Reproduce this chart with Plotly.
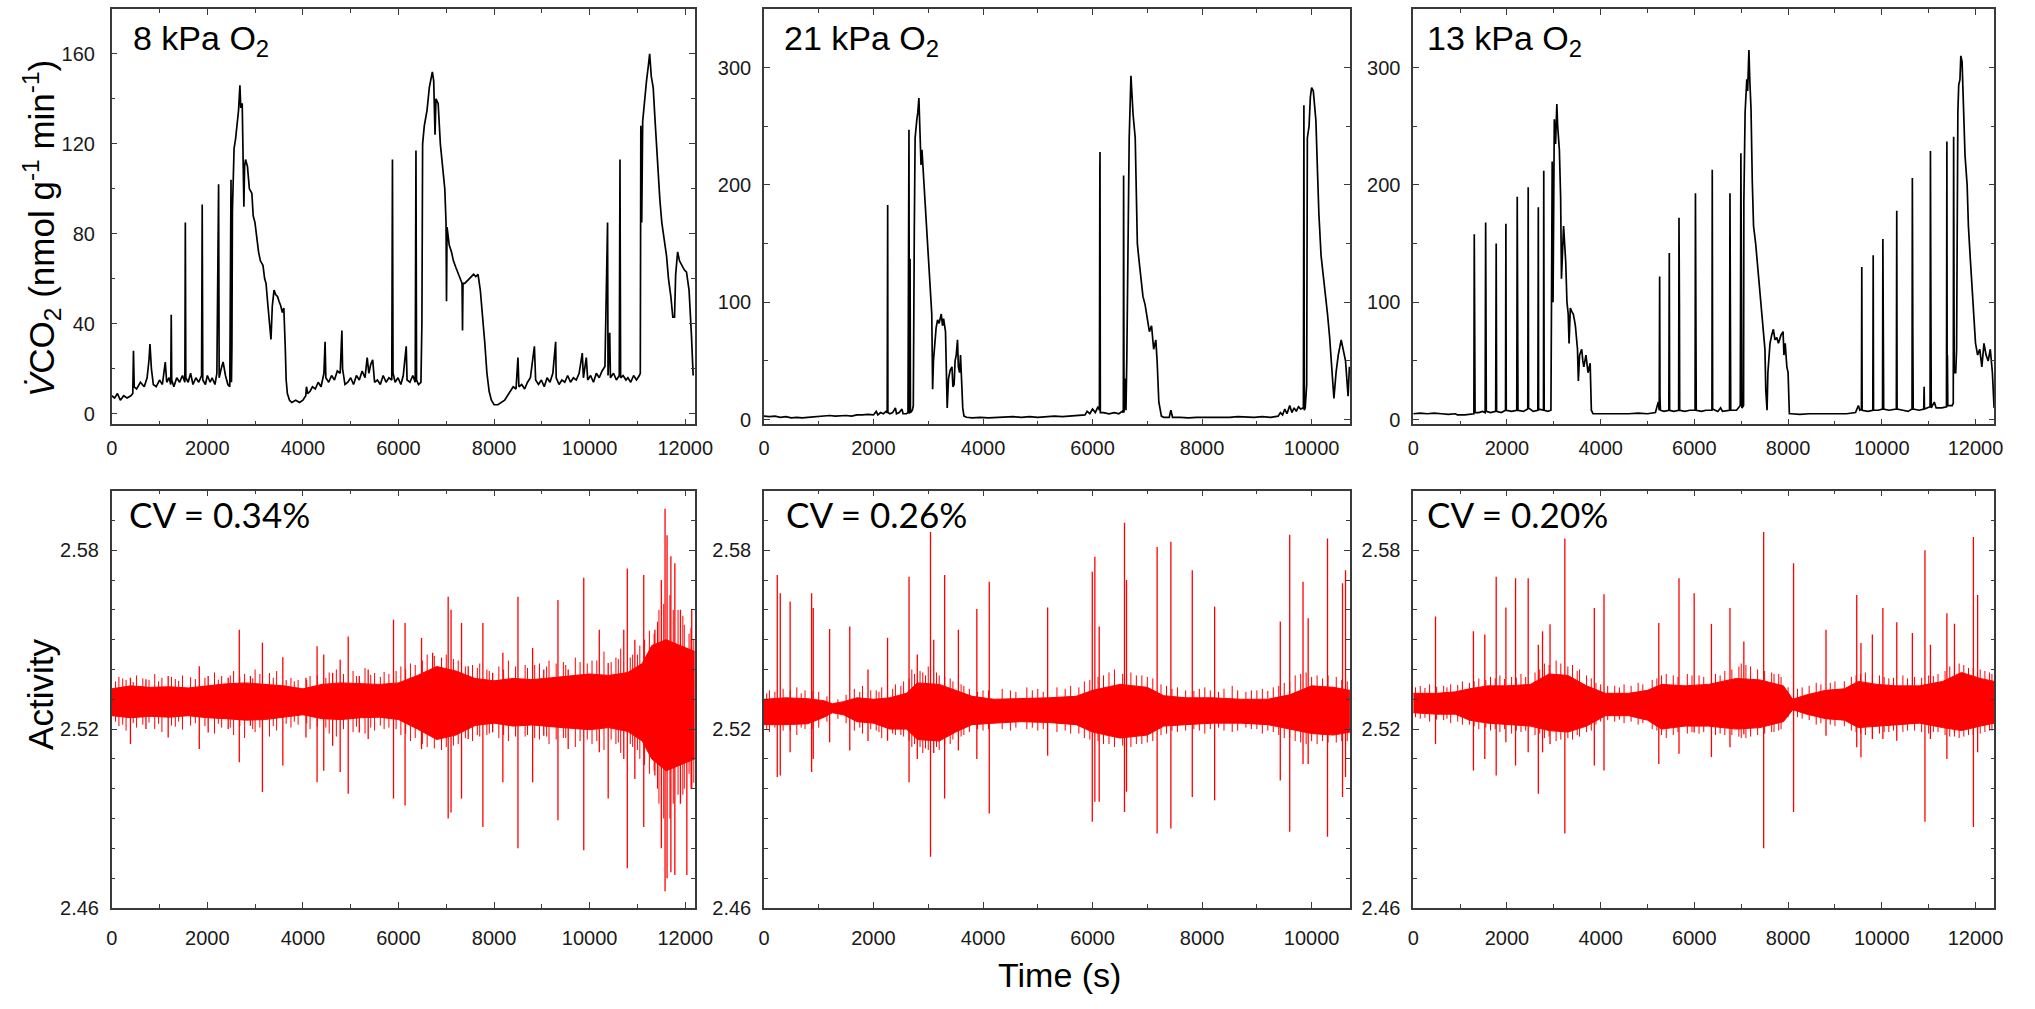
import plotly.graph_objects as go

# ---------------- data ----------------
# VCO2 traces: (time s, VCO2 nmol g-1 min-1)
CO2_8KPA = [
(0,8),(60,7),(120,9),(180,6),(250,8),(320,7),(400,8),(440,9),(455,28),(470,12),(520,11),(600,14),(680,12),(740,16),(780,24),(800,31),(830,20),(870,13),(930,12),(1000,15),(1060,13),(1100,19),(1120,23),(1150,14),(1200,16),(1235,13),(1245,44),(1255,15),(1300,12),(1360,16),(1420,14),(1480,17),(1530,14),(1540,85),(1550,16),(1600,14),(1650,18),(1700,13),(1760,16),(1820,14),(1880,17),(1893,93),(1905,15),(1960,13),(2000,17),(2060,14),(2100,16),(2160,13),(2200,18),(2236,102),(2248,16),(2290,20),(2330,23),(2380,17),(2430,13),(2470,12),(2496,104),(2505,14),(2515,30),(2525,90),(2540,105),(2560,118),(2590,122),(2620,128),(2654,135),(2682,146),(2700,136),(2730,138),(2750,118),(2765,92),(2780,110),(2800,113),(2840,110),(2880,100),(2932,98),(2960,88),(2997,85),(3040,77),(3072,72),(3110,68),(3164,66),(3200,60),(3229,58),(3260,50),(3285,45),(3310,38),(3332,33),(3360,48),(3396,55),(3430,53),(3471,52),(3500,50),(3536,48),(3570,45),(3601,47),(3630,30),(3650,15),(3675,9),(3720,6),(3768,5),(3850,6),(3930,5),(4000,6),(4060,8),(4074,12),(4100,9),(4150,10),(4200,12),(4260,11),(4320,14),(4380,12),(4440,18),(4464,32),(4480,16),(4540,14),(4600,17),(4660,15),(4720,19),(4780,18),(4816,37),(4830,20),(4880,13),(4940,14),(5000,16),(5060,13),(5120,17),(5180,15),(5240,19),(5300,16),(5345,25),(5380,18),(5420,22),(5460,24),(5500,14),(5560,15),(5620,13),(5680,17),(5740,14),(5800,16),(5860,15),(5874,113),(5886,18),(5930,14),(5990,16),(6050,13),(6100,17),(6162,30),(6180,15),(6240,14),(6300,17),(6350,14),(6366,117),(6378,15),(6420,13),(6470,14),(6490,40),(6505,120),(6540,128),(6598,135),(6645,145),(6709,152),(6737,148),(6765,124),(6784,140),(6830,138),(6876,120),(6923,110),(6969,100),(6995,85),(7005,50),(7016,83),(7062,75),(7108,72),(7150,68),(7201,65),(7250,62),(7294,60),(7330,58),(7340,37),(7350,58),(7387,58),(7430,59),(7480,60),(7530,61),(7572,62),(7620,61),(7665,62),(7712,55),(7758,45),(7804,32),(7851,18),(7897,10),(7944,6),(8000,4),(8080,4),(8160,5),(8222,6),(8280,8),(8340,10),(8400,12),(8460,11),(8500,25),(8520,12),(8580,13),(8640,11),(8700,14),(8760,16),(8800,22),(8844,30),(8870,15),(8930,13),(8990,15),(9050,12),(9110,16),(9170,14),(9230,18),(9289,32),(9300,16),(9360,13),(9420,15),(9480,14),(9540,17),(9600,14),(9660,16),(9720,15),(9780,18),(9846,27),(9870,16),(9930,25),(9960,15),(10020,17),(10080,14),(10140,18),(10200,16),(10260,19),(10320,21),(10375,85),(10385,17),(10420,36),(10435,16),(10500,18),(10560,15),(10620,17),(10635,113),(10648,16),(10700,17),(10760,15),(10800,16),(10860,14),(10920,17),(10980,15),(11040,17),(11060,18),(11071,128),(11090,85),(11110,130),(11150,140),(11190,148),(11230,155),(11256,160),(11290,150),(11330,145),(11370,130),(11420,110),(11470,95),(11510,85),(11560,78),(11610,70),(11650,60),(11700,52),(11740,43),(11776,43),(11800,62),(11841,72),(11880,68),(11930,66),(11980,64),(12027,63),(12080,55),(12130,35),(12166,17)
]

CO2_21KPA = [
(0,3),(100,2.5),(200,3),(300,2),(400,2.5),(500,1.5),(600,2),(700,1.5),(800,2),(900,2.5),(1000,2.5),(1100,3),(1200,3.5),(1300,3),(1400,3.5),(1500,3.5),(1600,3),(1700,4),(1800,4),(1900,4.5),(2000,4),(2050,7),(2080,4),(2130,6),(2180,5),(2230,7),(2250,6),(2256,60),(2259,183),(2263,6),(2300,5),(2350,6),(2400,10),(2420,5),(2470,6),(2520,9),(2540,5),(2600,5),(2630,6),(2648,247),(2655,5),(2668,137),(2675,6),(2710,8),(2727,12),(2745,160),(2760,240),(2790,255),(2810,262),(2829,274),(2850,250),(2868,217),(2885,230),(2923,200),(2962,170),(3002,140),(3041,110),(3064,90),(3080,26),(3095,50),(3143,78),(3170,85),(3198,82),(3237,90),(3260,80),(3280,86),(3315,75),(3331,40),(3346,10),(3370,35),(3400,42),(3433,45),(3450,28),(3472,30),(3490,50),(3511,55),(3534,68),(3550,45),(3573,40),(3589,55),(3605,30),(3630,10),(3652,3),(3700,2),(3800,1.5),(3950,2),(4100,1.5),(4250,2),(4400,2),(4550,2.5),(4700,2),(4850,2.5),(5000,2),(5150,2.5),(5300,3),(5450,2.5),(5600,3),(5750,3.5),(5862,4),(5900,7),(5950,5),(6000,9),(6050,6),(6100,11),(6125,8),(6133,210),(6136,228),(6142,6),(6200,6),(6300,5),(6400,6),(6480,5),(6540,7),(6562,6),(6567,208),(6575,6),(6591,35),(6610,8),(6625,50),(6646,150),(6669,240),(6701,293),(6720,275),(6740,260),(6779,240),(6802,200),(6818,150),(6850,135),(6881,120),(6920,105),(6959,98),(6998,85),(7038,75),(7077,80),(7100,70),(7116,60),(7155,68),(7179,50),(7210,15),(7257,3),(7300,2),(7400,2),(7430,8),(7460,2),(7600,2),(7750,1.5),(7900,2),(8050,2),(8200,1.5),(8350,2),(8500,2),(8650,2.5),(8800,2),(8950,2),(9100,2.5),(9250,2),(9389,3),(9430,6),(9470,4),(9510,9),(9550,5),(9600,12),(9640,6),(9680,10),(9720,7),(9760,11),(9800,9),(9850,10),(9859,268),(9866,8),(9883,10),(9910,30),(9922,240),(9953,250),(9977,275),(10000,283),(10031,280),(10055,265),(10078,255),(10109,209),(10133,175),(10172,140),(10210,125),(10250,110),(10290,90),(10329,70),(10368,45),(10407,18),(10446,40),(10486,55),(10540,68),(10580,60),(10619,50),(10666,20),(10690,45)
]

CO2_13KPA = [
(0,5),(150,5.5),(300,5),(450,5.5),(600,5),(750,4.5),(900,5),(944,4),(1100,4),(1250,4.5),(1295,5),(1303,158),(1310,14),(1320,6),(1400,6),(1480,7),(1535,6),(1546,168),(1550,6),(1554,83),(1560,7),(1650,6),(1760,7),(1771,150),(1780,7),(1880,6),(1970,8),(1978,167),(1986,8),(2100,7),(2210,8),(2220,190),(2226,8),(2230,75),(2236,8),(2350,7),(2445,9),(2454,198),(2462,10),(2560,7),(2660,8),(2670,181),(2676,8),(2680,65),(2686,9),(2780,8),(2786,212),(2795,8),(2870,7),(2939,8),(2950,90),(2966,220),(2984,100),(3011,256),(3038,235),(3065,269),(3083,250),(3119,230),(3146,190),(3164,120),(3209,165),(3254,135),(3281,100),(3308,90),(3326,65),(3353,95),(3385,92),(3416,90),(3440,85),(3461,80),(3506,60),(3524,33),(3551,55),(3596,60),(3620,50),(3641,45),(3686,55),(3731,40),(3776,48),(3802,8),(3838,5),(4000,5),(4200,4.5),(4400,5),(4600,5),(4800,5.5),(5000,5),(5169,6),(5200,10),(5230,15),(5250,8),(5259,122),(5266,20),(5275,8),(5350,7),(5455,8),(5465,142),(5472,8),(5560,7),(5665,8),(5672,172),(5677,8),(5681,98),(5687,8),(5800,7),(5900,8),(6015,8),(6023,193),(6030,8),(6034,33),(6040,8),(6150,7),(6250,8),(6375,8),(6382,213),(6390,9),(6500,7),(6560,10),(6600,7),(6750,8),(6760,193),(6766,8),(6770,45),(6776,8),(6900,8),(6980,12),(6993,227),(7000,12),(7005,60),(7015,10),(7050,12),(7056,185),(7083,262),(7119,290),(7137,280),(7164,315),(7182,290),(7209,265),(7236,203),(7263,165),(7308,150),(7353,130),(7398,112),(7443,95),(7479,77),(7506,60),(7524,25),(7551,8),(7569,40),(7614,65),(7650,72),(7686,77),(7720,68),(7758,70),(7794,65),(7848,72),(7893,75),(7911,55),(7938,65),(7974,45),(8000,40),(8027,5),(8060,5),(8250,4.5),(8450,5),(8650,5),(8850,5.5),(9050,5),(9250,5),(9439,6),(9470,10),(9500,12),(9530,8),(9565,9),(9573,130),(9580,8),(9700,7),(9808,8),(9816,140),(9823,8),(9920,8),(10016,9),(10023,154),(10029,9),(10033,33),(10040,9),(10150,8),(10310,9),(10319,178),(10326,9),(10450,8),(10560,7),(10645,9),(10652,206),(10658,9),(10662,72),(10670,9),(10800,8),(10895,9),(10903,28),(10910,9),(11030,11),(11038,229),(11044,11),(11048,92),(11055,10),(11120,15),(11160,10),(11280,10),(11380,11),(11389,237),(11395,11),(11400,55),(11408,12),(11500,12),(11525,14),(11533,241),(11545,40),(11577,40),(11596,60),(11623,262),(11641,285),(11668,290),(11686,310),(11713,305),(11731,280),(11749,240),(11776,225),(11821,200),(11848,165),(11884,140),(11929,112),(11965,90),(12000,65),(12045,55),(12090,60),(12135,45),(12180,65),(12225,55),(12270,50),(12315,60),(12360,40),(12396,10)
]

# Activity: envelope of the dense band (time, upper, lower),
# large spikes (time, high, low) and small fringe spikes (time, high, low)
ACT_8KPA_BAND = [
(0,2.5335,2.5245),(400,2.5345,2.5238),(800,2.5340,2.5243),(1200,2.5342,2.5240),(1600,2.5338,2.5245),(2000,2.5345,2.5238),(2400,2.5352,2.5235),(2800,2.5355,2.5230),(3200,2.5350,2.5232),(3600,2.5345,2.5240),(4000,2.5335,2.5248),(4400,2.5350,2.5235),(4800,2.5355,2.5232),(5200,2.5352,2.5238),(5600,2.5350,2.5240),(6000,2.5355,2.5232),(6400,2.5380,2.5200),(6800,2.5410,2.5165),(7200,2.5395,2.5180),(7600,2.5370,2.5212),(8000,2.5362,2.5220),(8400,2.5370,2.5210),(8800,2.5366,2.5214),(9200,2.5372,2.5208),(9600,2.5378,2.5204),(10000,2.5385,2.5198),(10400,2.5380,2.5205),(10800,2.5390,2.5192),(11100,2.5420,2.5160),(11300,2.5480,2.5100),(11600,2.5500,2.5060),(11900,2.5480,2.5080),(12200,2.5460,2.5100)
]
ACT_8KPA_SPIKES = [
(391,2.5372,2.5150),(716,2.5367,2.5200),(1181,2.5378,2.5172),(1832,2.5411,2.5133),(2018,2.5378,2.5189),(2437,2.5372,2.5200),(2669,2.5533,2.5089),(2902,2.5378,2.5211),(3153,2.5490,2.4989),(3580,2.5441,2.5078),(4064,2.5372,2.5172),(4297,2.5478,2.5022),(4436,2.5450,2.5060),(4622,2.5389,2.5144),(4780,2.5433,2.5056),(4948,2.5511,2.4983),(5180,2.5378,2.5189),(5366,2.5400,2.5167),(5896,2.5567,2.4967),(6138,2.5556,2.4944),(6482,2.5506,2.5133),(6715,2.5456,2.5178),(7040,2.5644,2.4900),(7100,2.5600,2.4920),(7319,2.5556,2.4967),(7459,2.5411,2.5167),(7766,2.5556,2.4872),(7970,2.5389,2.5189),(8184,2.5456,2.5022),(8500,2.5644,2.4800),(8807,2.5472,2.5022),(9040,2.5400,2.5178),(9337,2.5633,2.4894),(9551,2.5400,2.5133),(9877,2.5708,2.4794),(10202,2.5533,2.5122),(10388,2.5422,2.4967),(10714,2.5533,2.5100),(10788,2.5739,2.4733),(10946,2.5500,2.5033),(11132,2.5717,2.4872),(11365,2.5533,2.5044),(11500,2.5700,2.4800),(11578,2.5939,2.4656),(11620,2.5850,2.4700),(11700,2.5780,2.4720),(11783,2.5756,2.4711),(11900,2.5600,2.4950),(12034,2.5456,2.4711),(12136,2.5600,2.5000)
]
ACT_8KPA_FRINGE = [
(150,2.5375,2.5210),(300,2.5365,2.5195),(520,2.5380,2.5205),(650,2.5370,2.5215),(900,2.5385,2.5200),(1050,2.5372,2.5190),(1330,2.5368,2.5208),(1480,2.5380,2.5198),(1650,2.5374,2.5212),(2150,2.5390,2.5185),(2300,2.5378,2.5205),(2550,2.5395,2.5180),(2780,2.5385,2.5170),(3000,2.5400,2.5190),(3300,2.5388,2.5175),(3450,2.5395,2.5195),(3750,2.5372,2.5205),(3900,2.5365,2.5215),(4150,2.5378,2.5200),(4550,2.5390,2.5185),(4700,2.5400,2.5175),(5050,2.5395,2.5190),(5300,2.5405,2.5185),(5500,2.5388,2.5195),(5700,2.5392,2.5200),(6050,2.5410,2.5180),(6250,2.5420,2.5160),(6600,2.5450,2.5140),(6900,2.5440,2.5130),(7250,2.5430,2.5150),(7550,2.5415,2.5160),(7700,2.5420,2.5175),(7850,2.5400,2.5180),(8100,2.5410,2.5170),(8300,2.5430,2.5160),(8650,2.5415,2.5175),(8950,2.5420,2.5165),(9150,2.5430,2.5150),(9450,2.5425,2.5170),(9700,2.5440,2.5140),(10050,2.5430,2.5150),(10300,2.5460,2.5130),(10550,2.5440,2.5150),(10650,2.5470,2.5120),(10900,2.5450,2.5140),(11050,2.5480,2.5100),(11250,2.5530,2.5050),(11420,2.5560,2.5000),(11680,2.5650,2.4900),(11850,2.5600,2.4980),(11980,2.5550,2.5000),(12080,2.5520,2.5050),(12180,2.5500,2.5020),
(80,2.5360,2.5225),(230,2.5370,2.5215),(450,2.5358,2.5220),(780,2.5365,2.5222),(980,2.5360,2.5218),(1250,2.5375,2.5212),(1400,2.5362,2.5225),(1750,2.5368,2.5220),(1950,2.5372,2.5210),(2230,2.5366,2.5218),(2480,2.5380,2.5205),(2680,2.5375,2.5210),(2950,2.5370,2.5200),(3100,2.5385,2.5205),(3380,2.5372,2.5210),(3650,2.5365,2.5218),(3820,2.5360,2.5225),(4080,2.5365,2.5220),(4300,2.5380,2.5210),(4480,2.5372,2.5205),(4850,2.5385,2.5200),(5120,2.5378,2.5208),(5420,2.5382,2.5205),(5620,2.5375,2.5212),(5800,2.5385,2.5205),(5950,2.5395,2.5200),(6150,2.5400,2.5185),(6350,2.5415,2.5170),(6500,2.5430,2.5150),(6750,2.5445,2.5135),(7000,2.5450,2.5140),(7150,2.5435,2.5145),(7400,2.5410,2.5170),(7650,2.5405,2.5180),(7900,2.5395,2.5185),(8200,2.5400,2.5180),(8450,2.5410,2.5175),(8700,2.5405,2.5180),(8850,2.5415,2.5170),(9100,2.5410,2.5175),(9300,2.5420,2.5165),(9500,2.5415,2.5170),(9800,2.5425,2.5160),(9950,2.5420,2.5165),(10150,2.5430,2.5160),(10450,2.5425,2.5165),(10600,2.5435,2.5155),(10850,2.5440,2.5150),(11000,2.5450,2.5130),(11150,2.5500,2.5080),(11350,2.5520,2.5060),(11450,2.5600,2.4950),(11550,2.5620,2.4900),(11750,2.5600,2.4950),(11950,2.5580,2.4980),(12120,2.5540,2.5000)
]

ACT_21KPA_BAND = [
(0,2.5300,2.5215),(400,2.5305,2.5215),(800,2.5302,2.5218),(1100,2.5295,2.5240),(1250,2.5285,2.5255),(1450,2.5292,2.5248),(1700,2.5305,2.5225),(2000,2.5300,2.5220),(2300,2.5305,2.5200),(2600,2.5320,2.5200),(2800,2.5355,2.5165),(3200,2.5350,2.5160),(3500,2.5330,2.5190),(3800,2.5310,2.5215),(4200,2.5300,2.5220),(4700,2.5302,2.5225),(5200,2.5305,2.5222),(5700,2.5310,2.5215),(6000,2.5330,2.5190),(6500,2.5350,2.5170),(7000,2.5340,2.5180),(7300,2.5312,2.5210),(7700,2.5305,2.5215),(8200,2.5305,2.5220),(8700,2.5300,2.5220),(9200,2.5300,2.5215),(9600,2.5315,2.5200),(10000,2.5345,2.5185),(10400,2.5340,2.5180),(10700,2.5330,2.5190)
]
ACT_21KPA_SPIKES = [
(243,2.5717,2.5039),(298,2.5656,2.5044),(478,2.5628,2.5122),(870,2.5656,2.5056),(900,2.5606,2.5100),(1199,2.5536,2.5156),(1567,2.5544,2.5128),(1900,2.5400,2.5160),(2257,2.5506,2.5161),(2649,2.5711,2.5022),(2800,2.5450,2.5100),(3041,2.5861,2.4772),(3100,2.5500,2.5120),(3299,2.5717,2.4967),(3550,2.5533,2.5128),(3887,2.5603,2.5100),(4114,2.5694,2.4917),(5180,2.5608,2.5111),(5995,2.5728,2.4889),(6042,2.5778,2.4956),(6121,2.5544,2.4956),(6583,2.5892,2.4922),(6620,2.5700,2.4990),(7179,2.5811,2.4850),(7430,2.5828,2.4867),(7821,2.5733,2.4972),(8229,2.5611,2.4961),(9428,2.5561,2.5028),(9600,2.5852,2.4856),(9843,2.5694,2.5083),(9937,2.5572,2.5083),(10290,2.5839,2.4839),(10564,2.5689,2.4972),(10619,2.5733,2.5039)
]
ACT_21KPA_FRINGE = [
(100,2.5330,2.5190),(350,2.5335,2.5195),(600,2.5340,2.5180),(750,2.5330,2.5200),(1000,2.5325,2.5205),(1350,2.5300,2.5235),(1650,2.5335,2.5195),(1800,2.5345,2.5185),(2050,2.5330,2.5195),(2150,2.5340,2.5170),(2400,2.5350,2.5180),(2550,2.5360,2.5175),(2700,2.5400,2.5140),(2900,2.5390,2.5120),(3000,2.5410,2.5130),(3200,2.5380,2.5130),(3400,2.5370,2.5150),(3650,2.5345,2.5180),(3750,2.5335,2.5190),(4000,2.5330,2.5195),(4350,2.5335,2.5200),(4500,2.5330,2.5195),(4800,2.5340,2.5200),(5000,2.5335,2.5195),(5350,2.5340,2.5190),(5600,2.5345,2.5185),(5850,2.5360,2.5170),(6200,2.5380,2.5150),(6400,2.5400,2.5140),(6700,2.5390,2.5140),(6900,2.5380,2.5150),(7100,2.5370,2.5160),(7350,2.5345,2.5185),(7550,2.5340,2.5190),(7950,2.5335,2.5195),(8050,2.5340,2.5185),(8400,2.5335,2.5195),(8550,2.5345,2.5190),(8900,2.5330,2.5200),(9100,2.5335,2.5185),(9300,2.5340,2.5190),(9500,2.5355,2.5170),(9700,2.5380,2.5160),(9900,2.5390,2.5150),(10100,2.5380,2.5150),(10200,2.5370,2.5160),(10450,2.5375,2.5155),(10650,2.5360,2.5160),
(50,2.5320,2.5200),(200,2.5325,2.5205),(480,2.5330,2.5195),(680,2.5320,2.5205),(880,2.5328,2.5200),(1150,2.5310,2.5225),(1500,2.5315,2.5220),(1750,2.5325,2.5205),(1950,2.5330,2.5200),(2100,2.5325,2.5190),(2350,2.5335,2.5185),(2500,2.5345,2.5180),(2650,2.5370,2.5160),(2750,2.5385,2.5150),(2850,2.5395,2.5140),(2950,2.5380,2.5135),(3150,2.5390,2.5140),(3300,2.5375,2.5150),(3450,2.5360,2.5165),(3600,2.5350,2.5175),(3900,2.5325,2.5200),(4100,2.5330,2.5200),(4600,2.5325,2.5205),(4900,2.5330,2.5205),(5100,2.5325,2.5200),(5500,2.5335,2.5195),(5750,2.5340,2.5185),(5950,2.5365,2.5165),(6100,2.5375,2.5160),(6300,2.5390,2.5150),(6550,2.5385,2.5145),(6800,2.5380,2.5150),(7000,2.5375,2.5155),(7250,2.5350,2.5180),(7450,2.5335,2.5195),(7700,2.5330,2.5195),(7850,2.5328,2.5200),(8150,2.5330,2.5200),(8300,2.5325,2.5205),(8650,2.5330,2.5195),(8800,2.5325,2.5205),(9000,2.5330,2.5200),(9200,2.5328,2.5195),(9400,2.5345,2.5180),(9600,2.5360,2.5170),(9800,2.5385,2.5155),(10000,2.5375,2.5160),(10300,2.5380,2.5155),(10550,2.5365,2.5160)
]

ACT_13KPA_BAND = [
(0,2.5320,2.5255),(500,2.5320,2.5250),(900,2.5325,2.5250),(1200,2.5335,2.5230),(1600,2.5345,2.5220),(2000,2.5345,2.5215),(2500,2.5350,2.5210),(2900,2.5385,2.5195),(3300,2.5380,2.5190),(3700,2.5345,2.5210),(4100,2.5320,2.5245),(4600,2.5320,2.5245),(5000,2.5330,2.5230),(5300,2.5350,2.5200),(5800,2.5345,2.5210),(6300,2.5350,2.5210),(6900,2.5370,2.5200),(7400,2.5365,2.5205),(7900,2.5345,2.5225),(8100,2.5300,2.5265),(8400,2.5315,2.5250),(8800,2.5330,2.5235),(9200,2.5335,2.5230),(9500,2.5360,2.5205),(9900,2.5350,2.5210),(10300,2.5345,2.5215),(10800,2.5345,2.5220),(11300,2.5360,2.5205),(11700,2.5390,2.5195),(12100,2.5370,2.5210),(12400,2.5360,2.5220)
]
ACT_13KPA_SPIKES = [
(476,2.5578,2.5150),(1285,2.5528,2.5061),(1528,2.5517,2.5100),(1771,2.5711,2.5044),(1978,2.5608,2.5156),(2184,2.5706,2.5078),(2454,2.5706,2.5122),(2670,2.5483,2.4983),(2760,2.5528,2.5122),(2920,2.5552,2.5150),(3236,2.5839,2.4850),(3865,2.5606,2.5078),(4072,2.5652,2.5061),(5241,2.5556,2.5083),(5672,2.5706,2.5117),(5996,2.5656,2.5189),(6364,2.5553,2.5106),(6760,2.5606,2.5139),(7056,2.5494,2.5183),(7479,2.5861,2.4800),(8117,2.5756,2.4922),(8809,2.5533,2.5178),(9465,2.5650,2.5139),(9555,2.5489,2.5106),(9798,2.5517,2.5167),(10023,2.5606,2.5167),(10319,2.5558,2.5161),(10652,2.5522,2.5222),(10921,2.5800,2.4889),(11038,2.5483,2.5167),(11389,2.5589,2.5100),(11551,2.5553,2.5189),(11955,2.5844,2.4872),(12045,2.5650,2.5122)
]
ACT_13KPA_FRINGE = [
(150,2.5345,2.5235),(350,2.5350,2.5225),(650,2.5345,2.5230),(800,2.5350,2.5220),(1050,2.5360,2.5215),(1400,2.5370,2.5200),(1650,2.5375,2.5195),(1850,2.5380,2.5190),(2100,2.5375,2.5185),(2300,2.5385,2.5190),(2600,2.5390,2.5180),(2800,2.5420,2.5170),(3050,2.5430,2.5160),(3400,2.5415,2.5165),(3550,2.5400,2.5175),(3800,2.5370,2.5195),(4000,2.5350,2.5225),(4300,2.5345,2.5225),(4500,2.5350,2.5220),(4800,2.5355,2.5215),(5100,2.5365,2.5200),(5400,2.5385,2.5170),(5550,2.5380,2.5180),(5850,2.5385,2.5185),(6100,2.5380,2.5185),(6450,2.5385,2.5180),(6650,2.5395,2.5180),(7000,2.5420,2.5170),(7200,2.5410,2.5175),(7350,2.5400,2.5180),(7650,2.5390,2.5190),(7800,2.5385,2.5195),(8000,2.5340,2.5240),(8300,2.5340,2.5235),(8600,2.5355,2.5215),(9000,2.5360,2.5210),(9350,2.5375,2.5195),(9650,2.5390,2.5180),(9950,2.5380,2.5185),(10150,2.5370,2.5190),(10450,2.5380,2.5190),(10700,2.5375,2.5195),(11000,2.5380,2.5185),(11200,2.5385,2.5190),(11450,2.5410,2.5175),(11650,2.5420,2.5170),(11850,2.5405,2.5180),(12200,2.5395,2.5190),(12350,2.5385,2.5195),
(50,2.5340,2.5240),(250,2.5338,2.5238),(500,2.5342,2.5232),(720,2.5340,2.5235),(950,2.5348,2.5225),(1200,2.5355,2.5215),(1300,2.5360,2.5210),(1550,2.5365,2.5205),(1750,2.5370,2.5200),(1950,2.5368,2.5200),(2200,2.5372,2.5195),(2400,2.5375,2.5195),(2700,2.5400,2.5185),(2900,2.5415,2.5175),(3150,2.5420,2.5165),(3300,2.5410,2.5170),(3500,2.5395,2.5180),(3700,2.5380,2.5190),(3900,2.5355,2.5215),(4150,2.5345,2.5230),(4400,2.5340,2.5232),(4650,2.5345,2.5225),(4900,2.5350,2.5220),(5200,2.5370,2.5195),(5300,2.5380,2.5180),(5650,2.5375,2.5190),(5950,2.5380,2.5190),(6200,2.5375,2.5190),(6550,2.5380,2.5185),(6800,2.5400,2.5180),(6950,2.5410,2.5175),(7100,2.5415,2.5170),(7500,2.5395,2.5185),(7700,2.5385,2.5190),(7850,2.5375,2.5200),(8200,2.5335,2.5240),(8450,2.5345,2.5230),(8700,2.5350,2.5220),(8900,2.5355,2.5215),(9200,2.5360,2.5210),(9450,2.5380,2.5190),(9550,2.5385,2.5185),(9800,2.5380,2.5190),(10050,2.5375,2.5190),(10250,2.5372,2.5195),(10550,2.5370,2.5195),(10850,2.5372,2.5190),(11100,2.5378,2.5190),(11350,2.5395,2.5180),(11550,2.5410,2.5175),(11750,2.5415,2.5175),(11950,2.5405,2.5180),(12100,2.5400,2.5185),(12300,2.5390,2.5195)
]

X_TICKS = [0, 2000, 4000, 6000, 8000, 10000, 12000]
X_TICK_TEXT = ["0", "2000", "4000", "6000", "8000", "10000", "12000"]
X_MAX = [12200, 10700, 12400]
CO2_TICKS = [[0, 40, 80, 120, 160], [0, 100, 200, 300], [0, 100, 200, 300]]
CO2_TICK_TEXT = [["0", "40", "80", "120", "160"], ["0", "100", "200", "300"], ["0", "100", "200", "300"]]
CO2_RANGE = [[-4.7, 180], [-4, 350], [-4, 350]]
CO2_MINOR = [20, 50, 50]
ACT_TICKS = [2.46, 2.52, 2.58]
ACT_TICK_TEXT = ["2.46", "2.52", "2.58"]
ACT_RANGE = [2.46, 2.60]
O2_LABELS = ["8 kPa O<sub>2</sub>", "21 kPa O<sub>2</sub>", "13 kPa O<sub>2</sub>"]
CV_LABELS = ["CV = 0.34%", "CV = 0.26%", "CV = 0.20%"]

CO2_SERIES = [CO2_8KPA, CO2_21KPA, CO2_13KPA]
ACT_BANDS = [ACT_8KPA_BAND, ACT_21KPA_BAND, ACT_13KPA_BAND]
ACT_SPIKES = [ACT_8KPA_SPIKES, ACT_21KPA_SPIKES, ACT_13KPA_SPIKES]
ACT_FRINGE = [ACT_8KPA_FRINGE, ACT_21KPA_FRINGE, ACT_13KPA_FRINGE]

# ---------------- layout geometry (pixels) ----------------
W, H = 2035, 1009
COLS = [(107, 697), (767, 1360), (1424, 2012)]
TOP_ROW = (9, 429)
BOT_ROW = (496, 918)

def px_x(p):
    return p / W

def px_y(p):
    return 1 - p / H

AXIS_COLOR = "#3a3a3a"
FONT = "Liberation Sans, Arial, sans-serif"
RED = "#ff0000"

fig = go.Figure()
layout = dict(
    width=W, height=H, margin=dict(l=0, r=0, t=0, b=0),
    paper_bgcolor="white", plot_bgcolor="white", showlegend=False,
    font=dict(family=FONT, color="#1a1a1a", size=18),
)

def xaxis_cfg(col, xmax, standoff):
    return dict(
        domain=[px_x(COLS[col][0]), px_x(COLS[col][1])],
        range=[0, xmax], showgrid=False, zeroline=False,
        showline=True, linecolor=AXIS_COLOR, linewidth=1.5, mirror="allticks",
        ticks="inside", ticklen=6, tickwidth=1.2, tickcolor=AXIS_COLOR,
        tickmode="array", tickvals=X_TICKS, ticktext=X_TICK_TEXT,
        tickfont=dict(size=20, family=FONT, color="#1a1a1a"),
        ticklabelstandoff=standoff,
        minor=dict(dtick=1000, tick0=0, ticks="inside", ticklen=4, tickcolor=AXIS_COLOR, tickwidth=1),
    )

def yaxis_cfg(row_px, rng, tickvals, ticktext, minor_dtick, minor_tick0, standoff):
    return dict(
        domain=[px_y(row_px[1]), px_y(row_px[0])],
        range=rng, showgrid=False, zeroline=False,
        showline=True, linecolor=AXIS_COLOR, linewidth=1.5, mirror="allticks",
        ticks="inside", ticklen=6, tickwidth=1.2, tickcolor=AXIS_COLOR,
        tickmode="array", tickvals=tickvals, ticktext=ticktext,
        tickfont=dict(size=20, family=FONT, color="#1a1a1a"),
        ticklabelstandoff=standoff,
        minor=dict(dtick=minor_dtick, tick0=minor_tick0, ticks="inside", ticklen=4, tickcolor=AXIS_COLOR, tickwidth=1),
    )

for c in range(3):
    kt = c + 1          # top subplot index
    kb = c + 4          # bottom subplot index
    # top: VCO2
    ts = [p[0] for p in CO2_SERIES[c]]
    vs = [p[1] for p in CO2_SERIES[c]]
    fig.add_trace(go.Scatter(x=ts, y=vs, mode="lines",
                             line=dict(color="black", width=1.7),
                             xaxis=f"x{kt}", yaxis=f"y{kt}", hoverinfo="skip"))
    layout[f"xaxis{kt}"] = xaxis_cfg(c, X_MAX[c], 5)
    layout[f"xaxis{kt}"]["anchor"] = f"y{kt}"
    layout[f"yaxis{kt}"] = yaxis_cfg(TOP_ROW, CO2_RANGE[c], CO2_TICKS[c], CO2_TICK_TEXT[c],
                                     CO2_MINOR[c], 0, 11 if c == 0 else 7)
    layout[f"yaxis{kt}"]["anchor"] = f"x{kt}"

    # bottom: activity band + spikes
    bt = [p[0] for p in ACT_BANDS[c]]
    bu = [p[1] for p in ACT_BANDS[c]]
    bl = [p[2] for p in ACT_BANDS[c]]
    fig.add_trace(go.Scatter(x=bt, y=bl, mode="lines", line=dict(color=RED, width=1),
                             xaxis=f"x{kb}", yaxis=f"y{kb}", hoverinfo="skip"))
    fig.add_trace(go.Scatter(x=bt, y=bu, mode="lines", line=dict(color=RED, width=1),
                             fill="tonexty", fillcolor=RED,
                             xaxis=f"x{kb}", yaxis=f"y{kb}", hoverinfo="skip"))
    fx, fy = [], []
    for t, hi, lo in ACT_FRINGE[c]:
        fx += [t, t, None]
        fy += [lo, hi, None]
    fig.add_trace(go.Scatter(x=fx, y=fy, mode="lines", line=dict(color=RED, width=1),
                             xaxis=f"x{kb}", yaxis=f"y{kb}", hoverinfo="skip"))
    sx, sy = [], []
    for t, hi, lo in ACT_SPIKES[c]:
        sx += [t, t, None]
        sy += [lo, hi, None]
    fig.add_trace(go.Scatter(x=sx, y=sy, mode="lines", line=dict(color=RED, width=1.3),
                             xaxis=f"x{kb}", yaxis=f"y{kb}", hoverinfo="skip"))
    layout[f"xaxis{kb}"] = xaxis_cfg(c, X_MAX[c], 11)
    layout[f"xaxis{kb}"]["anchor"] = f"y{kb}"
    layout[f"yaxis{kb}"] = yaxis_cfg(BOT_ROW, ACT_RANGE, ACT_TICKS, ACT_TICK_TEXT,
                                     0.01, 2.46, 7)
    layout[f"yaxis{kb}"]["anchor"] = f"x{kb}"

annotations = []
O2_LEFT = [126, 785, 1436]
CV_LEFT = [122, 787, 1436]
for c in range(3):
    annotations.append(dict(text=O2_LABELS[c], xref="paper", yref="paper",
                            x=px_x(O2_LEFT[c]), y=px_y(41), xanchor="left", yanchor="middle",
                            showarrow=False, font=dict(size=34, family=FONT, color="black")))
    annotations.append(dict(text=CV_LABELS[c], xref="paper", yref="paper",
                            x=px_x(CV_LEFT[c]), y=px_y(520), xanchor="left", yanchor="middle",
                            showarrow=False, font=dict(size=35, family="Lato, Open Sans, sans-serif", color="black")))
annotations.append(dict(text="<i>V̇</i>CO<sub>2</sub> (nmol g<sup>-1</sup> min<sup>-1</sup>)",
                        xref="paper", yref="paper", x=px_x(36), y=px_y(231),
                        xanchor="center", yanchor="middle", textangle=-90, showarrow=False,
                        font=dict(size=35, family=FONT, color="black")))
annotations.append(dict(text="Activity", xref="paper", yref="paper", x=px_x(35), y=px_y(702),
                        xanchor="center", yanchor="middle", textangle=-90, showarrow=False,
                        font=dict(size=35, family=FONT, color="black")))
annotations.append(dict(text="Time (s)", xref="paper", yref="paper", x=px_x(1066), y=px_y(986),
                        xanchor="center", yanchor="middle", showarrow=False,
                        font=dict(size=34, family=FONT, color="black")))
layout["annotations"] = annotations

fig.update_layout(**layout)
fig.write_html("out.html")
